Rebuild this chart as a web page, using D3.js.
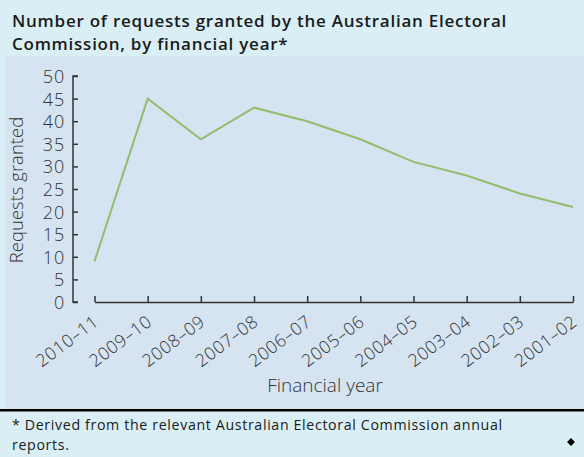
<!DOCTYPE html>
<html><head><meta charset="utf-8">
<script src="https://cdn.jsdelivr.net/npm/d3@7"></script>
<style>
html,body{margin:0;padding:0;background:#d9eff5;}
svg{display:block;font-family:"Open Sans",sans-serif;}
</style></head>
<body><svg id="c" width="584" height="457"></svg>
<script>
const categories = ["2010–11","2009–10","2008–09","2007–08","2006–07","2005–06","2004–05","2003–04","2002–03","2001–02"];
const values = [9,45,36,43,40,36,31,28,24,21];
const yTicks = [0,5,10,15,20,25,30,35,40,45,50];
const titleLines = ["Number of requests granted by the Australian Electoral","Commission, by financial year*"];
const noteLines = ["* Derived from the relevant Australian Electoral Commission annual","reports."];

const svg = d3.select("#c");
svg.append("rect").attr("width",584).attr("height",457).attr("fill","#d9eff5");
svg.append("rect").attr("x",5).attr("y",56).attr("width",579).attr("height",353).attr("fill","#d6e4f1");
svg.append("rect").attr("x",0).attr("y",409).attr("width",584).attr("height",2.5).attr("fill","#000");

svg.append("g").selectAll("text").data(titleLines).join("text")
  .attr("x",12).attr("y",(d,i)=>27+i*23)
  .attr("font-size",17).attr("font-weight",600).attr("letter-spacing",0.75)
  .attr("fill","#1a1a1a").text(d=>d);

const x = d3.scalePoint().domain(categories).range([94.5,573]);
const y = d3.scaleLinear().domain([0,50]).range([302,76]);

const yAxis = svg.append("g").attr("transform","translate(73,0)")
  .call(d3.axisRight(y).tickValues(yTicks).tickSize(5));
yAxis.selectAll("text").attr("text-anchor","end").attr("x",-8).attr("dy","0.36em")
  .attr("font-size",18).attr("fill","#333").attr("font-weight",300).attr("letter-spacing",0.8)
  .attr("font-family","Open Sans, sans-serif");
yAxis.selectAll("line,path").attr("stroke","#333").attr("stroke-width",1.5);
yAxis.select(".domain").attr("d","M5,76H0V302H5");

const xAxis = svg.append("g").attr("transform","translate(0,302)")
  .call(d3.axisTop(x).tickSize(6).tickSizeOuter(0));
xAxis.selectAll("line,path").attr("stroke","#333").attr("stroke-width",1.5);
xAxis.selectAll("text")
  .attr("text-anchor","end").attr("font-size",17.5).attr("fill","#333").attr("font-weight",300)
  .attr("letter-spacing",0.6)
  .attr("font-family","Open Sans, sans-serif")
  .attr("y",0).attr("dy",0)
  .attr("transform","translate(5,22) rotate(-37)");

svg.append("text").attr("x",325).attr("y",392).attr("text-anchor","middle")
  .attr("font-size",19).attr("fill","#333").attr("font-weight",300).text("Financial year");
svg.append("text").attr("transform","translate(23,190) rotate(-90)").attr("text-anchor","middle")
  .attr("font-size",18.5).attr("fill","#333").attr("font-weight",300).text("Requests granted");

const line = d3.line().x((d,i)=>x(categories[i])).y(d=>y(d));
svg.append("path").datum(values).attr("d",line).attr("fill","none")
  .attr("stroke","#92bd6c").attr("stroke-width",2);

svg.append("g").selectAll("text").data(noteLines).join("text")
  .attr("x",12).attr("y",(d,i)=>430+i*19.5)
  .attr("font-size",14.2).attr("letter-spacing",0.65).attr("fill","#1a1a1a").text(d=>d);
svg.append("path").attr("d",d3.symbol(d3.symbolDiamond2,40)()).attr("transform","translate(571,442)").attr("fill","#000");
</script></body></html>
